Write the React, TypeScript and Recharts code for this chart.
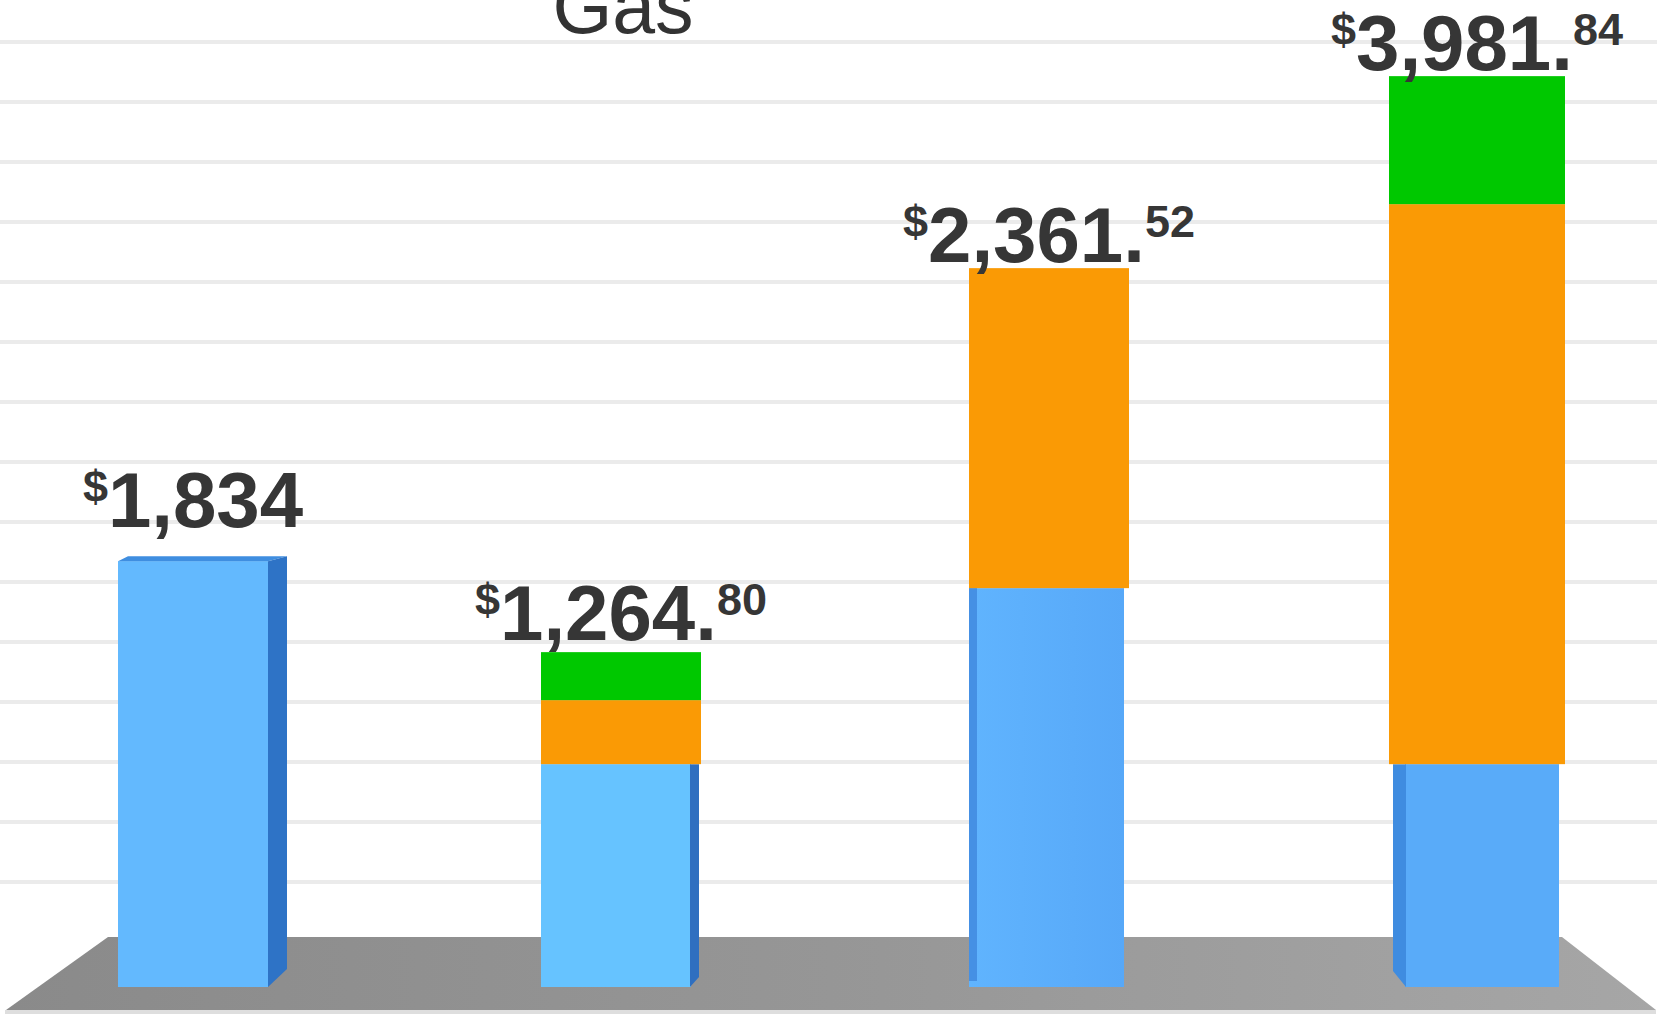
import React from "react";
import { BarChart, Bar, XAxis, YAxis, CartesianGrid, LabelList } from "recharts";

const categories = ["1", "2", "3", "4"];
const blueValues = [1885, 975, 1745, 975];
const orangeValues = [0, 280, 1400, 2450];
const greenValues = [0, 210, 0, 560];
const totalWhole = ["1,834", "1,264.", "2,361.", "3,981."];
const totalCents = ["", "80", "52", "84"];
const gridTicks = [1, 2, 3, 4, 5, 6, 7, 8, 9, 10, 11, 12, 13, 14, 15];

const data = categories.map((name, i) => ({
  name,
  blue: blueValues[i],
  orange: orangeValues[i],
  green: greenValues[i],
}));

const FONT = "'Liberation Sans', Arial, Helvetica, sans-serif";
const barWidths = [150, 160, 160, 176];
const labelGap = [29, 12, 6, 6];

function BlueShape(props: any) {
  const { x, y, width, height, index } = props;
  if (!height) return null;
  const w = barWidths[index];
  const l = x + width / 2 - w / 2;
  const r = l + w;
  const b = y + height;
  if (index === 0) {
    return (
      <g>
        <rect x={l} y={y + 5} width={w} height={height - 5} fill="#63b9fe" />
        <polygon points={`${l},${y + 5} ${l + 10},${y} ${r + 19},${y} ${r},${y + 5}`} fill="#3f8ee0" />
        <polygon points={`${r},${y + 5} ${r + 19},${y} ${r + 19},${b - 18} ${r},${b}`} fill="#2e73c6" />
      </g>
    );
  }
  if (index === 1) {
    return (
      <g>
        <rect x={l} y={y} width={w - 10} height={height} fill="#66c3ff" />
        <polygon points={`${r - 11},${y} ${r - 2},${y} ${r - 2},${b - 10} ${r - 11},${b}`} fill="#2f6fc0" />
      </g>
    );
  }
  if (index === 2) {
    return (
      <g>
        <rect x={l} y={y} width={w - 5} height={height} fill="url(#blue3)" />
        <rect x={l} y={y} width={8} height={height - 6} fill="#4590e4" />
      </g>
    );
  }
  return (
    <g>
      <rect x={l + 16} y={y} width={w - 22} height={height} fill="#59abf9" />
      <polygon points={`${l + 4},${y} ${l + 17},${y} ${l + 17},${b} ${l + 4},${b - 16}`} fill="#3f8ce0" />
    </g>
  );
}

function PlainShape(props: any) {
  const { x, y, width, height, index, fill } = props;
  if (!height) return null;
  const w = barWidths[index];
  return <rect x={x + width / 2 - w / 2} y={y} width={w} height={height} fill={fill} />;
}

function TotalLabel(props: any) {
  const { x, y, width, index } = props;
  const cx = x + width / 2;
  return (
    <text
      x={cx}
      y={y - labelGap[index]}
      textAnchor="middle"
      fill="#363636"
      fontFamily={FONT}
      fontWeight="bold"
    >
      <tspan fontSize={45} dy={-25}>$</tspan>
      <tspan fontSize={78} dy={25}>{totalWhole[index]}</tspan>
      {totalCents[index] ? (
        <tspan fontSize={45} dy={-25}>{totalCents[index]}</tspan>
      ) : null}
    </text>
  );
}

export default function App() {
  return (
    <div
      style={{
        position: "absolute",
        left: 0,
        top: 0,
        width: 1657,
        height: 1020,
        overflow: "hidden",
        background: "#ffffff",
      }}
    >
      <svg width={1657} height={1020} style={{ position: "absolute", left: 0, top: 0 }}>
        <defs>
          <linearGradient id="floor" x1="0" y1="0" x2="1" y2="0">
            <stop offset="0%" stopColor="#8a8a8a" />
            <stop offset="50%" stopColor="#969696" />
            <stop offset="100%" stopColor="#a6a6a6" />
          </linearGradient>
        </defs>
        <polygon points="5,1010 1656,1010 1656,1014 5,1014" fill="#dedede" />
        <polygon points="108,937 1562,937 1656,1010 6,1010" fill="url(#floor)" />
        <text x={623} y={33} textAnchor="middle" fontFamily={FONT} fontSize={77} fill="#333333">
          Gas
        </text>
      </svg>
      <div style={{ position: "absolute", left: -21, top: 0 }}>
        <BarChart
          width={1712}
          height={1020}
          data={data}
          margin={{ top: 27, right: 0, bottom: 33, left: 0 }}
        >
          <defs>
            <linearGradient id="blue3" x1="0" y1="0" x2="1" y2="0">
              <stop offset="0%" stopColor="#60b4fe" />
              <stop offset="100%" stopColor="#57a8f8" />
            </linearGradient>
          </defs>
          <XAxis dataKey="name" hide padding={{ left: 0, right: 0 }} />
          <YAxis hide domain={[0, 4200]} allowDataOverflow />
          <YAxis
            yAxisId="grid"
            hide
            type="number"
            domain={[-0.75, 15.25]}
            ticks={gridTicks}
            allowDataOverflow
          />
          <CartesianGrid
            yAxisId="grid"
            vertical={false}
            syncWithTicks
            stroke="#ebebeb"
            strokeWidth={4}
          />
          <Bar dataKey="blue" stackId="a" fill="#63b9fe" barSize={160} shape={<BlueShape />} isAnimationActive={false} />
          <Bar dataKey="orange" stackId="a" fill="#fa9a05" barSize={160} shape={<PlainShape />} isAnimationActive={false} />
          <Bar dataKey="green" stackId="a" fill="#00c800" barSize={160} shape={<PlainShape />} isAnimationActive={false}>
            <LabelList dataKey="green" content={<TotalLabel />} />
          </Bar>
        </BarChart>
      </div>
    </div>
  );
}
